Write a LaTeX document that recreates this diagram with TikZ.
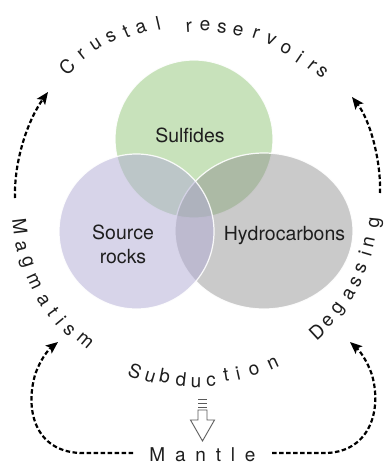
\documentclass[tikz,border=0pt]{standalone}
\usepackage{fontspec}
\setmainfont{TeX Gyre Heros}
\usetikzlibrary{arrows.meta}
\definecolor{sulf}{RGB}{147,199,121}
\definecolor{srcr}{RGB}{177,171,213}
\definecolor{hydc}{RGB}{140,140,140}
\definecolor{ink}{RGB}{30,30,30}
\definecolor{arrowgray}{RGB}{90,90,90}
\newcommand\lblfont{\fontsize{19.5}{23.4}\selectfont}
\newcommand\arcfnt{\fontsize{19}{21}\selectfont}
\newcommand\lsp{\kern9.8pt\relax}
\begin{document}
\begin{tikzpicture}[x=1pt,y=-1pt,
  blob/.style={fill opacity=0.5, draw=white, draw opacity=0.9, line width=1.2pt},
  lbl/.style={font=\lblfont, text=ink, inner sep=0pt},
  arcl/.style={font=\arcfnt, text=ink, inner sep=0pt},
  flow/.style={draw=black, line width=2.2pt, dash pattern=on 4.5pt off 2.5pt,
    -{Stealth[length=12pt,width=10pt,inset=2.5pt]}},
  hollow/.style={draw=arrowgray, line width=0.9pt, fill=white, line join=miter},
]
\useasboundingbox (0,0) rectangle (386,464);
\fill[white] (0,0) rectangle (386,464);

% circles
\path[blob, fill=sulf] (194,139) circle[radius=79];
\path[blob, fill=hydc, fill opacity=0.46] (264,231) ellipse[x radius=89, y radius=78];
\path[blob, fill=srcr] (136.5,231.5) circle[radius=77.5];

% labels
\node[lbl, anchor=base] (sulfides) at (190,142) {Sulfides};
\node[lbl, align=center] (source) at (123,244.5) {Source\\rocks};
\node[lbl, anchor=base] (hydro) at (284.5,240) {Hydrocarbons};

% arc texts
\foreach \ch/\x/\y/\r [count=\k] in {C/67/67/43.9, r/82/55/38.2, u/96/45/33, s/111/37/27.9, t/126/32/23.2, a/141/28/18.4, l/158/23/13, r/189/27/3.5, e/205/26/-1.6, s/222/28/-7.1, e/238/31/-12.3, r/256/34/-18.1, v/271/40/-23.3, o/286/49/-28.9, i/300/57/-34.1, r/312/65/-38.7, s/322/72/-42.5}
  \node[arcl, rotate=\r] (crust-\k) at (\x,\y) {\ch};
\foreach \ch/\x/\y/\r [count=\k] in {M/20/227/-83, a/21/247/-76.8, g/26/263/-71.6, m/34/282/-65.1, a/43/300/-58.8, t/53/312/-54, i/61/321/-50.2, s/69/330/-46.3, m/85/341/-40.2}
  \node[arcl, rotate=\r] (magma-\k) at (\x,\y) {\ch};
\foreach \ch/\x/\y/\r [count=\k] in {D/317/332/42.7, e/328/321/47.8, g/339/309/53.2, a/349/294/59.2, s/356/282/63.7, s/361/268/68.6, i/365/254/73.5, n/369/242/77.7, g/376/223/84.2}
  \node[arcl, rotate=\r] (degas-\k) at (\x,\y) {\ch};
\foreach \ch/\x/\y/\r [count=\k] in {S/135/371/-21.4, u/150/377/-16.2, b/165/376/-11.6, d/181/379/-6.2, u/196/383/-1.3, c/211/381/3.6, t/226/375/8.7, i/238/373/12.7, o/254/370/18.1, n/273/364/24.7}
  \node[arcl, rotate=\r] (subd-\k) at (\x,\y) {\ch};

% mantle
\node[arcl, anchor=base] (mantle) at (202.5,461.5) {M\lsp a\lsp n\lsp t\lsp l\lsp e};

% subduction arrow
\fill[arrowgray] (198,398.5) rectangle (207,400.3);
\fill[arrowgray] (198,402.5) rectangle (207,404.3);
\fill[arrowgray] (198,406.5) rectangle (207,408.3);
\path[hollow] (198,410) -- (198,420) -- (190.5,420) -- (202.5,441) -- (214.5,420) -- (207,420) -- (207,410) -- cycle;

% flow arrows
\coordinate (m1) at (15,198); \coordinate (m2) at (48,92);
\draw[flow] (m1) .. controls (14,160) and (28,120) .. (m2);
\coordinate (d1) at (380,193); \coordinate (d2) at (352,97);
\draw[flow] (d1) .. controls (381,160) and (370,120) .. (d2);
\coordinate (bl1) at (133,453); \coordinate (bl2) at (58,342);
\draw[flow] (bl1) -- (80,453) .. controls (35,451) and (25,410) .. (35,375) .. controls (40,360) and (48,350) .. (bl2);
\coordinate (br1) at (272,453); \coordinate (br2) at (350,342);
\draw[flow] (br1) -- (327,453) .. controls (370,451) and (382,410) .. (372,375) .. controls (367,360) and (359,350) .. (br2);
\end{tikzpicture}
\end{document}
